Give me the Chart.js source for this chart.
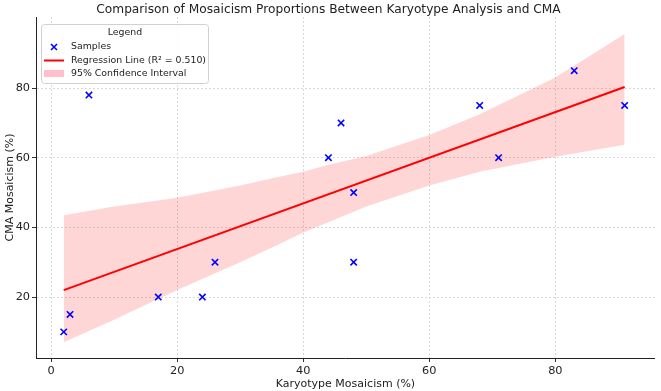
<!DOCTYPE html>
<html>
<head>
<meta charset="utf-8">
<script src="https://cdn.jsdelivr.net/npm/chart.js@4.4.0/dist/chart.umd.min.js"></script>
<style>
  html, body { margin: 0; padding: 0; background: #fff; }
  #wrap { width: 661px; height: 391px; }
</style>
</head>
<body>
<div id="wrap"><canvas id="chart" width="661" height="391"></canvas></div>
<script>
// samples
const karyotype = [2, 3, 6, 17, 24, 26, 44, 46, 48, 48, 68, 71, 83, 91];
const cma = [10, 15, 78, 20, 20, 30, 60, 70, 50, 30, 75, 60, 85, 75];

// regression line end points
const lineX = [2, 91];
const lineY = [22, 80.3];

// confidence band
const bandX = [2, 10, 20, 30, 36, 40, 44, 50, 60, 68, 80, 91];
const bandUpper = [43.5, 46, 48.5, 52, 54.5, 56, 58, 60.5, 66.5, 72.5, 83, 95.5];
const bandLower = [7, 13.5, 22, 30, 35, 38.5, 41.5, 46, 52, 56, 60.3, 63.7];

const xTicks = [0, 20, 40, 60, 80];
const yTicks = [20, 40, 60, 80];

const zip = (xs, ys) => xs.map((x, i) => ({ x: x, y: ys[i] }));

const font = "'DejaVu Sans', sans-serif";
const bandColor = "rgba(255, 0, 0, 0.16)";

// legend drawn inside the plot, top left
const innerLegend = {
  id: "innerLegend",
  afterDraw(chart) {
    const ctx = chart.ctx;
    const ds = chart.data.datasets;
    const x0 = 41, y0 = 24, w = 167, h = 59;
    ctx.save();
    ctx.fillStyle = "rgba(255,255,255,0.85)";
    ctx.strokeStyle = "#d0d0d0";
    ctx.lineWidth = 1;
    ctx.beginPath();
    ctx.roundRect(x0 + 0.5, y0 + 0.5, w, h, 3);
    ctx.fill();
    ctx.stroke();

    ctx.fillStyle = "#222";
    ctx.font = "9.4px " + font;
    ctx.textBaseline = "middle";
    ctx.textAlign = "center";
    ctx.fillText("Legend", 125, 32.5);
    ctx.textAlign = "left";

    // Samples
    ctx.strokeStyle = "blue";
    ctx.lineWidth = 1.6;
    ctx.beginPath();
    ctx.moveTo(51, 44); ctx.lineTo(57, 50);
    ctx.moveTo(57, 44); ctx.lineTo(51, 50);
    ctx.stroke();
    ctx.fillStyle = "#222";
    ctx.fillText(ds[0].label, 71, 46.5);

    // regression
    ctx.strokeStyle = "red";
    ctx.lineWidth = 2;
    ctx.beginPath();
    ctx.moveTo(44, 60.5); ctx.lineTo(64, 60.5);
    ctx.stroke();
    ctx.fillText(ds[1].label, 71, 60.5);

    // band
    ctx.fillStyle = "rgba(255, 150, 170, 0.6)";
    ctx.fillRect(44, 70, 20, 7);
    ctx.fillStyle = "#222";
    ctx.fillText(ds[2].label, 71, 74);
    ctx.restore();
  }
};

const gridOpts = {
  color: "#d9d9d9",
  tickColor: "#333",
  tickLength: 4,
  tickBorderDash: []
};

new Chart(document.getElementById("chart"), {
  type: "scatter",
  data: {
    datasets: [
      {
        label: "Samples",
        data: zip(karyotype, cma),
        pointStyle: "crossRot",
        pointRadius: 4.5,
        pointHoverRadius: 4.5,
        borderColor: "blue",
        backgroundColor: "blue",
        pointBorderWidth: 1.6,
        order: 0
      },
      {
        type: "line",
        label: "Regression Line (R² = 0.510)",
        data: zip(lineX, lineY),
        borderColor: "red",
        borderWidth: 2,
        pointRadius: 0,
        fill: false,
        order: 1
      },
      {
        type: "line",
        label: "95% Confidence Interval",
        data: zip(bandX, bandUpper),
        borderWidth: 0,
        borderColor: "rgba(0,0,0,0)",
        backgroundColor: bandColor,
        pointRadius: 0,
        fill: "+1",
        order: 2
      },
      {
        type: "line",
        label: "lower",
        data: zip(bandX, bandLower),
        borderWidth: 0,
        borderColor: "rgba(0,0,0,0)",
        pointRadius: 0,
        fill: false,
        order: 3
      }
    ]
  },
  options: {
    responsive: false,
    animation: false,
    layout: { padding: { left: 0, right: 4, top: 0, bottom: 0 } },
    plugins: {
      legend: { display: false },
      tooltip: { enabled: false },
      title: {
        display: true,
        text: "Comparison of Mosaicism Proportions Between Karyotype Analysis and CMA",
        color: "#222",
        font: { family: font, size: 12.2, weight: "normal", lineHeight: "14px" },
        padding: { top: 3, bottom: 0 }
      }
    },
    scales: {
      x: {
        type: "linear",
        min: -2.4,
        max: 95.8,
        afterBuildTicks: (scale) => { scale.ticks = xTicks.map((v) => ({ value: v })); },
        afterFit: (scale) => { scale.height = 33; },
        grid: gridOpts,
        border: { color: "#222", width: 1, dash: [2, 2] },
        ticks: { color: "#222", font: { family: font, size: 11.3 }, padding: 2 },
        title: {
          display: true,
          text: "Karyotype Mosaicism (%)",
          color: "#222",
          font: { family: font, size: 11 },
          padding: { top: 0, bottom: 0 }
        }
      },
      y: {
        type: "linear",
        min: 2.5,
        max: 100.4,
        afterBuildTicks: (scale) => { scale.ticks = yTicks.map((v) => ({ value: v })); },
        afterFit: (scale) => { scale.width = 36; },
        grid: gridOpts,
        border: { color: "#222", width: 1, dash: [2, 2] },
        ticks: { color: "#222", font: { family: font, size: 11.3 }, padding: 2 },
        title: {
          display: true,
          text: "CMA Mosaicism (%)",
          color: "#222",
          font: { family: font, size: 11 },
          padding: { top: 4, bottom: 2 }
        }
      }
    }
  },
  plugins: [innerLegend]
});
</script>
</body>
</html>
